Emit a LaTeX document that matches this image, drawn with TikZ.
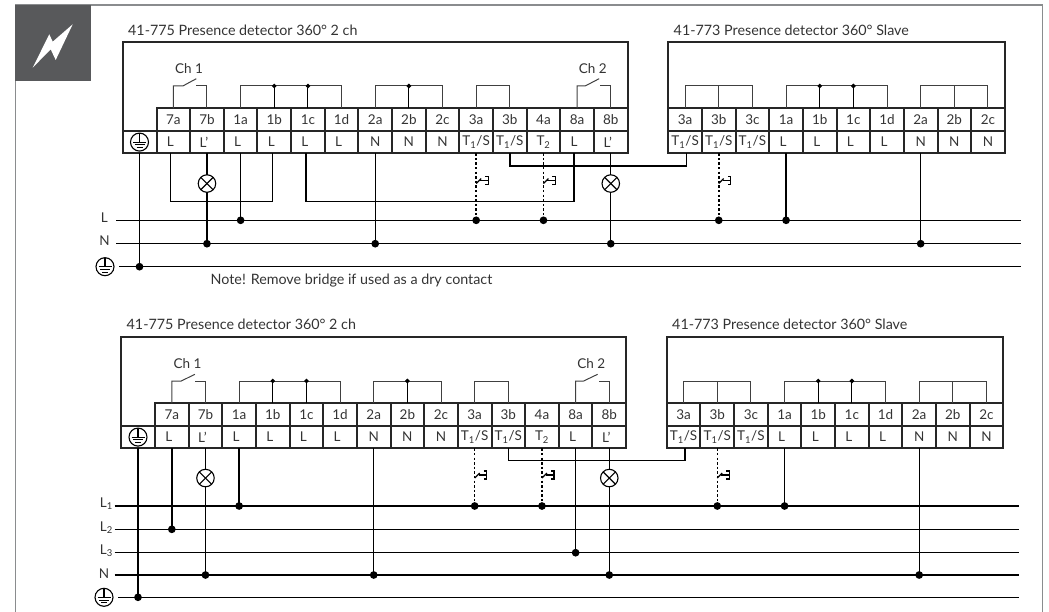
\documentclass[tikz,border=0pt]{standalone}
\usepackage{fontspec}
\setmainfont{Lato}
\usetikzlibrary{arrows.meta, positioning, calc}

\definecolor{tabgray}{HTML}{58595B}
\definecolor{framegray}{HTML}{8A8C8E}
\definecolor{inkgray}{HTML}{333333}

\newcommand{\pushbtn}[1]{%
    \draw[jumper, black, line width=1.2pt] ($(#1)+(0,3)$) -- ++(5,-5);
    \draw[jumper, black, line width=1.2pt] ($(#1)+(4,0)$) -- ++(8,0);
    \draw[jumper, black, line width=1.2pt] ($(#1)+(9,-4)$) -- ++(3,0) -- ++(0,8) -- ++(-3,0);
}

\begin{document}
\begin{tikzpicture}[
    x=1pt, y=-1pt,
    devbox/.style={rectangle, draw=black!85, line width=2pt, outer sep=0pt, inner sep=0pt, minimum height=111.6pt},
    head/.style={rectangle, draw=black!85, line width=2pt, outer sep=0pt, inner sep=0pt, minimum width=33.65pt, minimum height=22.6pt, text=inkgray, font=\fontsize{13.5}{13.5}\selectfont},
    func/.style={head, minimum height=22.4pt},
    earthsym/.style={circle, draw=black, line width=1.1pt, inner sep=0pt, outer sep=0pt, minimum size=#1, fill=white, path picture={
        \draw[line width=1.1pt] (path picture bounding box.north) -- (path picture bounding box.center);
        \draw[line width=1.1pt] ($(path picture bounding box.center)+(-6.5,0)$) -- ++(13,0);
        \draw[line width=1.1pt] ($(path picture bounding box.center)+(-5,2.8)$) -- ++(10,0);
        \draw[line width=1.1pt] ($(path picture bounding box.center)+(-3,5.4)$) -- ++(6,0);
    }},
    earthcell/.style={func, minimum width=34pt},
    lamp/.style={circle, draw=black, line width=1.1pt, inner sep=0pt, outer sep=0pt, minimum size=17.5pt, path picture={
        \draw[line width=1.1pt] (path picture bounding box.north west) -- (path picture bounding box.south east);
        \draw[line width=1.1pt] (path picture bounding box.north east) -- (path picture bounding box.south west);
    }},
    title/.style={text=inkgray, font=\fontsize{14.3}{15}\selectfont, inner sep=0pt, anchor=west},
    lbl/.style={text=inkgray, font=\fontsize{13.5}{13.5}\selectfont, inner sep=0pt},
    wire/.style={black, line width=1.35pt},
    bus/.style={black, line width=1.35pt},
    tap/.style={wire, -{Circle[length=7.6pt, width=7.6pt]}, shorten >=-3.8pt},
    dashtap/.style={tap, dash pattern=on 2.4pt off 2.2pt, line width=1.5pt},
    jumper/.style={black!75, line width=1pt},
    jtap/.style={jumper, black, -{Circle[length=4.4pt, width=4.4pt]}, shorten >=-2.2pt}
]
    \useasboundingbox (0,0) rectangle (1049,612);

    % Sheet frame and tab
    \coordinate (frameA) at (15.5,612);
    \coordinate (frameB) at (15.5,5);
    \coordinate (frameC) at (1042.7,5);
    \coordinate (frameD) at (1042.7,612);
    \draw[framegray, line width=1.3pt] (frameA) -- (frameB) -- (frameC) -- (frameD);
    \node[rectangle, fill=tabgray, minimum size=76pt, inner sep=0pt, anchor=north west] (tab) at (15,5) {};
    \fill[white] (72.7,24.3) -- (55.7,60) -- (50.7,49.3) -- (32.7,67.7) -- (49.3,34.3) -- (52.7,41.7) -- cycle;

    % ---------- Upper circuit ----------
    \node[title] (mAtitle) at (128,30) {41-775 Presence detector 360° 2 ch};
    \node[title] (sAtitle) at (673.5,30) {41-773 Presence detector 360° Slave};
    \node[title] (note) at (210.5,280.5) {Note! Remove bridge if used as a dry contact};

    % Master unit
    \node[devbox, minimum width=505pt, anchor=north west] (mAbox) at (122.5,41.7) {};
    \node[earthcell, anchor=south west] (mAe) at (mAbox.south west) {};
    \node[earthsym=18pt] (mAes) at (mAe) {};
    \node[func, right=0pt of mAe] (mA7af) {\kern-6pt L};
    \node[head, above=0pt of mA7af] (mA7a) {7a};
    \node[func, right=0pt of mA7af] (mA7bf) {\kern-6pt L'};
    \node[head, above=0pt of mA7bf] (mA7b) {7b};
    \node[func, right=0pt of mA7bf] (mA1af) {\kern-6pt L};
    \node[head, above=0pt of mA1af] (mA1a) {1a};
    \node[func, right=0pt of mA1af] (mA1bf) {\kern-6pt L};
    \node[head, above=0pt of mA1bf] (mA1b) {1b};
    \node[func, right=0pt of mA1bf] (mA1cf) {\kern-6pt L};
    \node[head, above=0pt of mA1cf] (mA1c) {1c};
    \node[func, right=0pt of mA1cf] (mA1df) {\kern-6pt L};
    \node[head, above=0pt of mA1df] (mA1d) {1d};
    \node[func, right=0pt of mA1df] (mA2af) {N};
    \node[head, above=0pt of mA2af] (mA2a) {2a};
    \node[func, right=0pt of mA2af] (mA2bf) {N};
    \node[head, above=0pt of mA2bf] (mA2b) {2b};
    \node[func, right=0pt of mA2bf] (mA2cf) {N};
    \node[head, above=0pt of mA2cf] (mA2c) {2c};
    \node[func, right=0pt of mA2cf] (mA3af) {T\textsubscript{1}/S};
    \node[head, above=0pt of mA3af] (mA3a) {3a};
    \node[func, right=0pt of mA3af] (mA3bf) {T\textsubscript{1}/S};
    \node[head, above=0pt of mA3bf] (mA3b) {3b};
    \node[func, right=0pt of mA3bf] (mA4af) {T\textsubscript{2}};
    \node[head, above=0pt of mA4af] (mA4a) {4a};
    \node[func, right=0pt of mA4af] (mA8af) {\kern-6pt L};
    \node[head, above=0pt of mA8af] (mA8a) {8a};
    \node[func, right=0pt of mA8af] (mA8bf) {\kern-6pt L'};
    \node[head, above=0pt of mA8bf] (mA8b) {8b};

    % Slave unit
    \node[devbox, minimum width=336.5pt, anchor=north west] (sAbox) at (668.3,41.7) {};
    \node[func, anchor=south west] (sA3af) at (sAbox.south west) {T\textsubscript{1}/S};
    \node[head, above=0pt of sA3af] (sA3a) {3a};
    \node[func, right=0pt of sA3af] (sA3bf) {T\textsubscript{1}/S};
    \node[head, above=0pt of sA3bf] (sA3b) {3b};
    \node[func, right=0pt of sA3bf] (sA3cf) {T\textsubscript{1}/S};
    \node[head, above=0pt of sA3cf] (sA3c) {3c};
    \node[func, right=0pt of sA3cf] (sA1af) {\kern-6pt L};
    \node[head, above=0pt of sA1af] (sA1a) {1a};
    \node[func, right=0pt of sA1af] (sA1bf) {\kern-6pt L};
    \node[head, above=0pt of sA1bf] (sA1b) {1b};
    \node[func, right=0pt of sA1bf] (sA1cf) {\kern-6pt L};
    \node[head, above=0pt of sA1cf] (sA1c) {1c};
    \node[func, right=0pt of sA1cf] (sA1df) {\kern-6pt L};
    \node[head, above=0pt of sA1df] (sA1d) {1d};
    \node[func, right=0pt of sA1df] (sA2af) {N};
    \node[head, above=0pt of sA2af] (sA2a) {2a};
    \node[func, right=0pt of sA2af] (sA2bf) {N};
    \node[head, above=0pt of sA2bf] (sA2b) {2b};
    \node[func, right=0pt of sA2bf] (sA2cf) {N};
    \node[head, above=0pt of sA2cf] (sA2c) {2c};

    % Internal bridges
    \node[lbl, above=34pt of mA7b, xshift=-18pt] (mAch1) {Ch 1};
    \node[lbl, above=34pt of mA8b, xshift=-18pt] (mAch2) {Ch 2};
    \draw[jumper] (mA7a.north) -- ++(0,-22.3) -- ++(9.5,0) -- ++(13.5,-7.3);
    \draw[jumper] (mA7b.north) -- ++(0,-22.3) -- ++(-10.5,0);
    \draw[jumper] (mA8a.north) -- ++(0,-22.3) -- ++(8,0) -- ++(14,-7.3);
    \draw[jumper] (mA8b.north) -- ++(0,-22.3) -- ++(-10.5,0);
    \draw[jumper] (mA1a.north) -- ++(0,-22.3) -| (mA1d.north);
    \draw[jtap] (mA1b.north) -- ++(0,-22.3);
    \draw[jtap] (mA1c.north) -- ++(0,-22.3);
    \draw[jumper] (mA2a.north) -- ++(0,-22.3) -| (mA2c.north);
    \draw[jtap] (mA2b.north) -- ++(0,-22.3);
    \draw[jumper] (mA3a.north) -- ++(0,-22.3) -| (mA3b.north);
    \draw[jumper] (sA3a.north) -- ++(0,-22.3) -| (sA3c.north);
    \draw[jumper] (sA3b.north) -- ++(0,-22.3);
    \draw[jumper] (sA1a.north) -- ++(0,-22.3) -| (sA1d.north);
    \draw[jtap] (sA1b.north) -- ++(0,-22.3);
    \draw[jtap] (sA1c.north) -- ++(0,-22.3);
    \draw[jumper] (sA2a.north) -- ++(0,-22.3) -| (sA2c.north);
    \draw[jumper] (sA2b.north) -- ++(0,-22.3);

    % Mains rails
    \coordinate (mALa) at (116,220.3);
    \coordinate (mALb) at (1020.7,220.3);
    \coordinate (mANa) at (116,243.7);
    \coordinate (mANb) at (1020.7,243.7);
    \coordinate (mAEa) at (119,266.7);
    \coordinate (mAEb) at (1020.7,266.7);
    \draw[bus] (mALa) -- (mALb);
    \draw[bus] (mANa) -- (mANb);
    \draw[bus] (mAEa) -- (mAEb);
    \node[lbl, left=8pt of mALa, yshift=3pt] (mALlbl) {L};
    \node[lbl, left=6pt of mANa, yshift=3pt] (mANlbl) {N};
    \node[earthsym=18pt, left=5pt of mAEa] (mAElbl) {};

    % Lamps and buttons
    \node[lamp, below=21.5pt of mA7bf] (mAlamp1) {};
    \node[lamp, below=21.5pt of mA8bf] (mAlamp2) {};
    \coordinate (mAbtn1) at ($(mA3af.south |- mAlamp1)+(0,-3)$);
    \coordinate (mAbtn2) at ($(mA4af.south |- mAlamp1)+(0,-3)$);
    \coordinate (sAbtn1) at ($(sA3bf.south |- mAlamp1)+(0,-3)$);
    \pushbtn{mAbtn1}
    \pushbtn{mAbtn2}
    \pushbtn{sAbtn1}

    % Field wiring
    \draw[tap] (mAe.south) -- (mAe.south |- mAEa);
    \draw[wire] ($(mA7af.south)+(-3,0)$) |- ($(mA1bf.south)+(-2,48.4)$) -- ($(mA1bf.south)+(-2,0)$);
    \draw[wire] (mA7bf.south) -- (mAlamp1);
    \draw[tap] (mAlamp1) -- (mAlamp1 |- mANa);
    \draw[tap] (mA1af.south) -- (mA1af.south |- mALa);
    \draw[wire] ($(mA1cf.south)+(-2,0)$) |- ($(mA8af.south)+(-3,48.4)$) -- ($(mA8af.south)+(-3,0)$);
    \draw[tap] (mA2af.south) -- (mA2af.south |- mANa);
    \draw[dashtap] (mA3af.south) -- (mA3af.south |- mALa);
    \draw[dashtap] (mA4af.south) -- (mA4af.south |- mALa);
    \draw[wire] (mA3bf.south) |- ($(sA3af.south)+(1.5,12.7)$) -- ($(sA3af.south)+(1.5,0)$);
    \draw[wire] (mA8bf.south) -- (mAlamp2);
    \draw[tap] (mAlamp2) -- (mAlamp2 |- mANa);
    \draw[dashtap] (sA3bf.south) -- (sA3bf.south |- mALa);
    \draw[tap] (sA1af.south) -- (sA1af.south |- mALa);
    \draw[tap] (sA2af.south) -- (sA2af.south |- mANa);

    % ---------- Lower circuit ----------
    \node[title] (mBtitle) at (126.5,324) {41-775 Presence detector 360° 2 ch};
    \node[title] (sBtitle) at (672,324) {41-773 Presence detector 360° Slave};

    % Master unit
    \node[devbox, minimum width=505pt, anchor=north west] (mBbox) at (121,336.7) {};
    \node[earthcell, anchor=south west] (mBe) at (mBbox.south west) {};
    \node[earthsym=18pt] (mBes) at (mBe) {};
    \node[func, right=0pt of mBe] (mB7af) {\kern-6pt L};
    \node[head, above=0pt of mB7af] (mB7a) {7a};
    \node[func, right=0pt of mB7af] (mB7bf) {\kern-6pt L'};
    \node[head, above=0pt of mB7bf] (mB7b) {7b};
    \node[func, right=0pt of mB7bf] (mB1af) {\kern-6pt L};
    \node[head, above=0pt of mB1af] (mB1a) {1a};
    \node[func, right=0pt of mB1af] (mB1bf) {\kern-6pt L};
    \node[head, above=0pt of mB1bf] (mB1b) {1b};
    \node[func, right=0pt of mB1bf] (mB1cf) {\kern-6pt L};
    \node[head, above=0pt of mB1cf] (mB1c) {1c};
    \node[func, right=0pt of mB1cf] (mB1df) {\kern-6pt L};
    \node[head, above=0pt of mB1df] (mB1d) {1d};
    \node[func, right=0pt of mB1df] (mB2af) {N};
    \node[head, above=0pt of mB2af] (mB2a) {2a};
    \node[func, right=0pt of mB2af] (mB2bf) {N};
    \node[head, above=0pt of mB2bf] (mB2b) {2b};
    \node[func, right=0pt of mB2bf] (mB2cf) {N};
    \node[head, above=0pt of mB2cf] (mB2c) {2c};
    \node[func, right=0pt of mB2cf] (mB3af) {T\textsubscript{1}/S};
    \node[head, above=0pt of mB3af] (mB3a) {3a};
    \node[func, right=0pt of mB3af] (mB3bf) {T\textsubscript{1}/S};
    \node[head, above=0pt of mB3bf] (mB3b) {3b};
    \node[func, right=0pt of mB3bf] (mB4af) {T\textsubscript{2}};
    \node[head, above=0pt of mB4af] (mB4a) {4a};
    \node[func, right=0pt of mB4af] (mB8af) {\kern-6pt L};
    \node[head, above=0pt of mB8af] (mB8a) {8a};
    \node[func, right=0pt of mB8af] (mB8bf) {\kern-6pt L'};
    \node[head, above=0pt of mB8bf] (mB8b) {8b};

    % Slave unit
    \node[devbox, minimum width=336.5pt, anchor=north west] (sBbox) at (666.8,336.7) {};
    \node[func, anchor=south west] (sB3af) at (sBbox.south west) {T\textsubscript{1}/S};
    \node[head, above=0pt of sB3af] (sB3a) {3a};
    \node[func, right=0pt of sB3af] (sB3bf) {T\textsubscript{1}/S};
    \node[head, above=0pt of sB3bf] (sB3b) {3b};
    \node[func, right=0pt of sB3bf] (sB3cf) {T\textsubscript{1}/S};
    \node[head, above=0pt of sB3cf] (sB3c) {3c};
    \node[func, right=0pt of sB3cf] (sB1af) {\kern-6pt L};
    \node[head, above=0pt of sB1af] (sB1a) {1a};
    \node[func, right=0pt of sB1af] (sB1bf) {\kern-6pt L};
    \node[head, above=0pt of sB1bf] (sB1b) {1b};
    \node[func, right=0pt of sB1bf] (sB1cf) {\kern-6pt L};
    \node[head, above=0pt of sB1cf] (sB1c) {1c};
    \node[func, right=0pt of sB1cf] (sB1df) {\kern-6pt L};
    \node[head, above=0pt of sB1df] (sB1d) {1d};
    \node[func, right=0pt of sB1df] (sB2af) {N};
    \node[head, above=0pt of sB2af] (sB2a) {2a};
    \node[func, right=0pt of sB2af] (sB2bf) {N};
    \node[head, above=0pt of sB2bf] (sB2b) {2b};
    \node[func, right=0pt of sB2bf] (sB2cf) {N};
    \node[head, above=0pt of sB2cf] (sB2c) {2c};

    % Internal bridges
    \node[lbl, above=34pt of mB7b, xshift=-18pt] (mBch1) {Ch 1};
    \node[lbl, above=34pt of mB8b, xshift=-18pt] (mBch2) {Ch 2};
    \draw[jumper] (mB7a.north) -- ++(0,-22.3) -- ++(9.5,0) -- ++(13.5,-6.7);
    \draw[jumper] (mB7b.north) -- ++(0,-22.3) -- ++(-10.5,0);
    \draw[jumper] (mB8a.north) -- ++(0,-22.3) -- ++(8,0) -- ++(14,-6.7);
    \draw[jumper] (mB8b.north) -- ++(0,-22.3) -- ++(-10.5,0);
    \draw[jumper] (mB1a.north) -- ++(0,-22.3) -| (mB1d.north);
    \draw[jtap] (mB1b.north) -- ++(0,-22.3);
    \draw[jtap] (mB1c.north) -- ++(0,-22.3);
    \draw[jumper] (mB2a.north) -- ++(0,-22.3) -| (mB2c.north);
    \draw[jtap] (mB2b.north) -- ++(0,-22.3);
    \draw[jumper] (mB3a.north) -- ++(0,-22.3) -| (mB3b.north);
    \draw[jumper] (sB3a.north) -- ++(0,-22.3) -| (sB3c.north);
    \draw[jumper] (sB3b.north) -- ++(0,-22.3);
    \draw[jumper] (sB1a.north) -- ++(0,-22.3) -| (sB1d.north);
    \draw[jtap] (sB1b.north) -- ++(0,-22.3);
    \draw[jtap] (sB1c.north) -- ++(0,-22.3);
    \draw[jumper] (sB2a.north) -- ++(0,-22.3) -| (sB2c.north);
    \draw[jumper] (sB2b.north) -- ++(0,-22.3);

    % Mains rails
    \coordinate (mBL1a) at (114.5,506);
    \coordinate (mBL1b) at (1019,506);
    \coordinate (mBL2a) at (114.5,529.3);
    \coordinate (mBL2b) at (1019,529.3);
    \coordinate (mBL3a) at (114.5,552.7);
    \coordinate (mBL3b) at (1019,552.7);
    \coordinate (mBNa) at (114.5,575);
    \coordinate (mBNb) at (1019,575);
    \coordinate (mBEa) at (118,597.3);
    \coordinate (mBEb) at (1019,597.3);
    \draw[bus] (mBL1a) -- (mBL1b);
    \draw[bus] (mBL2a) -- (mBL2b);
    \draw[bus] (mBL3a) -- (mBL3b);
    \draw[bus] (mBNa) -- (mBNb);
    \draw[bus] (mBEa) -- (mBEb);
    \node[lbl, left=1.5pt of mBL1a, yshift=2pt] (mBL1lbl) {L\textsubscript{1}};
    \node[lbl, left=1.5pt of mBL2a, yshift=2pt] (mBL2lbl) {L\textsubscript{2}};
    \node[lbl, left=1.5pt of mBL3a, yshift=2pt] (mBL3lbl) {L\textsubscript{3}};
    \node[lbl, left=5pt of mBNa, yshift=1pt] (mBNlbl) {N};
    \node[earthsym=18pt, left=5pt of mBEa] (mBElbl) {};

    % Lamps and buttons
    \node[lamp, below=21pt of mB7bf] (mBlamp1) {};
    \node[lamp, below=21pt of mB8bf] (mBlamp2) {};
    \coordinate (mBbtn1) at ($(mB3af.south |- mBlamp1)+(0,-3)$);
    \coordinate (mBbtn2) at ($(mB4af.south |- mBlamp1)+(0,-3)$);
    \coordinate (sBbtn1) at ($(sB3bf.south |- mBlamp1)+(0,-3)$);
    \pushbtn{mBbtn1}
    \pushbtn{mBbtn2}
    \pushbtn{sBbtn1}

    % Field wiring
    \draw[tap] (mBe.south) -- (mBe.south |- mBEa);
    \draw[tap] (mB7af.south) -- (mB7af.south |- mBL2a);
    \draw[wire] (mB7bf.south) -- (mBlamp1);
    \draw[tap] (mBlamp1) -- (mBlamp1 |- mBNa);
    \draw[tap] (mB1af.south) -- (mB1af.south |- mBL1a);
    \draw[tap] (mB2af.south) -- (mB2af.south |- mBNa);
    \draw[dashtap] (mB3af.south) -- (mB3af.south |- mBL1a);
    \draw[dashtap] (mB4af.south) -- (mB4af.south |- mBL1a);
    \draw[wire] (mB3bf.south) |- ($(sB3af.south)+(1.5,12.4)$) -- ($(sB3af.south)+(1.5,0)$);
    \draw[tap] (mB8af.south) -- (mB8af.south |- mBL3a);
    \draw[wire] (mB8bf.south) -- (mBlamp2);
    \draw[tap] (mBlamp2) -- (mBlamp2 |- mBNa);
    \draw[dashtap] (sB3bf.south) -- (sB3bf.south |- mBL1a);
    \draw[tap] (sB1af.south) -- (sB1af.south |- mBL1a);
    \draw[tap] (sB2af.south) -- (sB2af.south |- mBNa);

\end{tikzpicture}
\end{document}
